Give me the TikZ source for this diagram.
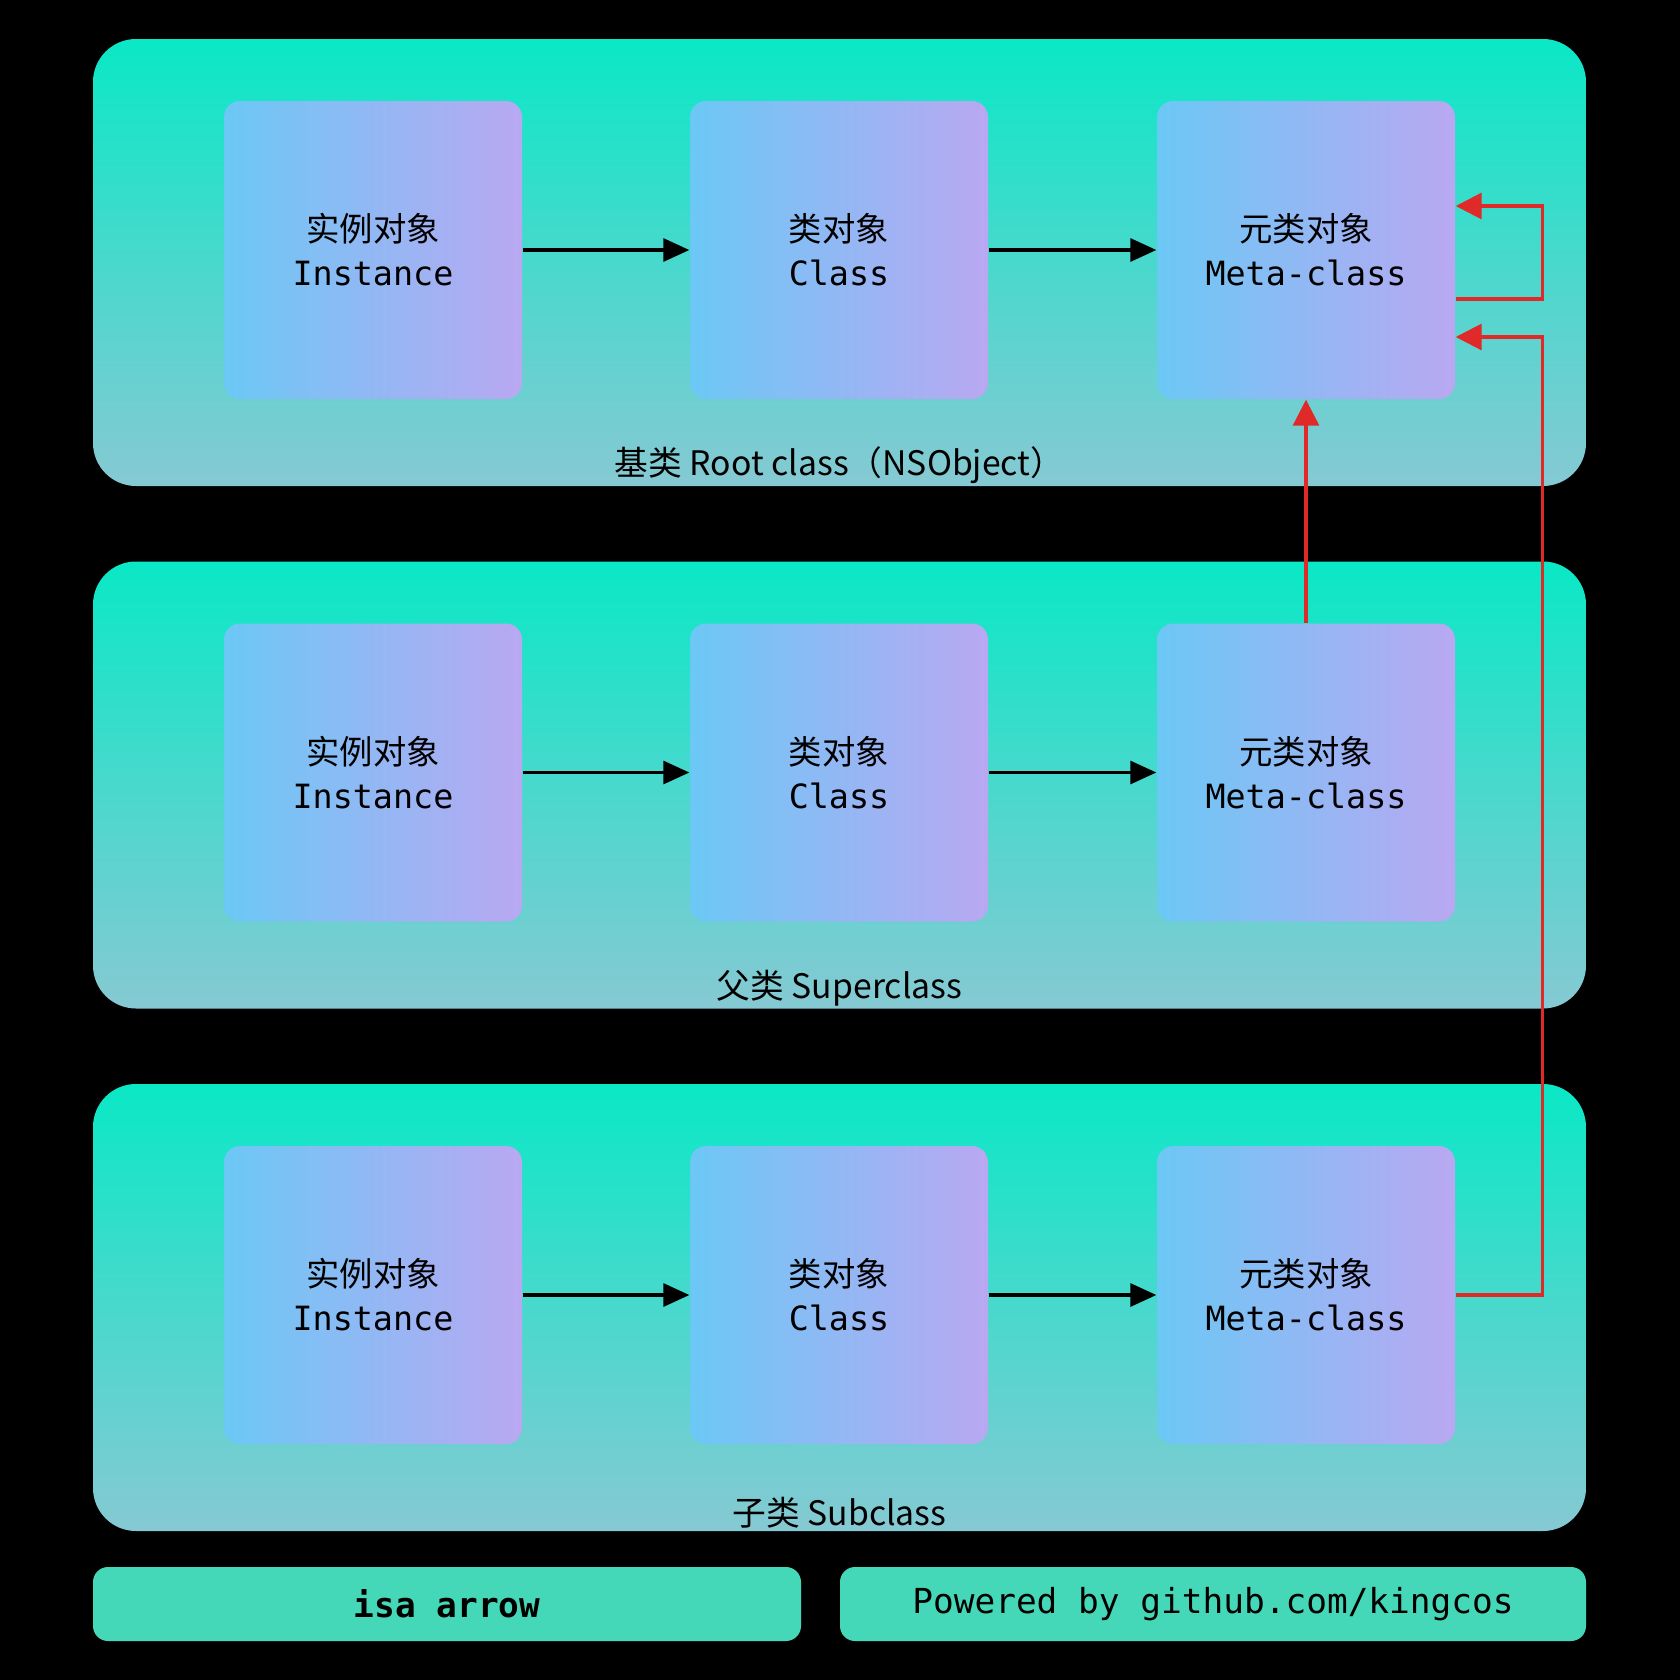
\documentclass[tikz,border=0pt]{standalone}
\usepackage{fontspec}
\setmonofont{DejaVu Sans Mono}
\newfontfamily\cjk{Noto Sans CJK SC}
\usetikzlibrary{arrows.meta, positioning, calc}
\definecolor{panelalto}{HTML}{0AE8C6}
\definecolor{panelbasso}{HTML}{86C9D3}
\definecolor{boxsx}{HTML}{6BC8F5}
\definecolor{boxdx}{HTML}{B9A8F2}
\definecolor{legenda}{HTML}{45D8B8}
\definecolor{isared}{HTML}{E02A2A}
\tikzset{
  % pannello di una classe (root, super, sub)
  panel/.style={rounded corners=0.43cm, top color=panelalto, bottom color=panelbasso,
    minimum width=14.93cm, minimum height=4.47cm, inner sep=0pt},
  % oggetto: istanza, classe, metaclasse
  objbox/.style={rounded corners=0.16cm, left color=boxsx, right color=boxdx,
    minimum size=2.98cm, inner sep=0pt, align=center,
    font=\fontsize{9.5}{12.5}\selectfont},
  % titolo del pannello
  panellbl/.style={inner sep=0pt, font=\cjk\fontsize{9.6}{12}\selectfont},
  % riquadri della legenda
  legbox/.style={rounded corners=0.15cm, fill=legenda, minimum height=0.74cm,
    inner sep=0pt, font=\ttfamily\fontsize{9.8}{12}\selectfont},
  % freccia isa
  isa/.style={line width=0.9pt, black, -{Triangle[length=0.26cm, width=0.23cm]}},
  % freccia superclass
  superarrow/.style={line width=0.9pt, isared, -{Triangle[length=0.26cm, width=0.26cm]}},
}

\begin{document}
\begin{tikzpicture}
  \fill[black] (0,0) rectangle (16.8,-16.8);
  \useasboundingbox (0,0) rectangle (16.8,-16.8);
  \foreach \r/\nome/\tit in {0/root/{基类 Root class（NSObject）},
      1/super/{父类 Superclass}, 2/sub/{子类 Subclass}} {
    \pgfmathsetmacro{\py}{-2.625-5.225*\r}
    \pgfmathsetmacro{\by}{\py+0.125}
    \node[panel] (p-\nome) at (8.395,\py) {};
    \node[panellbl, above=0.025cm of p-\nome.south] (lbl-\nome) {\tit};
    \node[objbox] (ist-\nome) at (3.73,\by) {{\cjk 实例对象}\\\ttfamily Instance};
    \node[objbox] (cls-\nome) at (8.39,\by) {{\cjk 类对象}\\\ttfamily Class};
    \node[objbox] (meta-\nome) at (13.06,\by) {{\cjk 元类对象}\\\ttfamily Meta-class};
    \draw[isa] (ist-\nome) -- (cls-\nome);
    \draw[isa] (cls-\nome) -- (meta-\nome);
  }
  \draw[superarrow] ([yshift=-0.49cm]meta-root.east) -- ++(0.87,0)
    |- ([yshift=0.44cm]meta-root.east);
  \draw[superarrow] (meta-sub.east) -- ++(0.87,0) |- ([yshift=-0.87cm]meta-root.east);
  \draw[superarrow] (meta-super.north) -- (meta-root.south);
  \node[legbox, minimum width=7.08cm] (leg-isa) at (4.47,-16.04) {\bfseries isa arrow};
  \node[legbox, minimum width=7.46cm] (leg-pow) at (12.13,-16.04) {Powered by github.com/kingcos};
\end{tikzpicture}
\end{document}
